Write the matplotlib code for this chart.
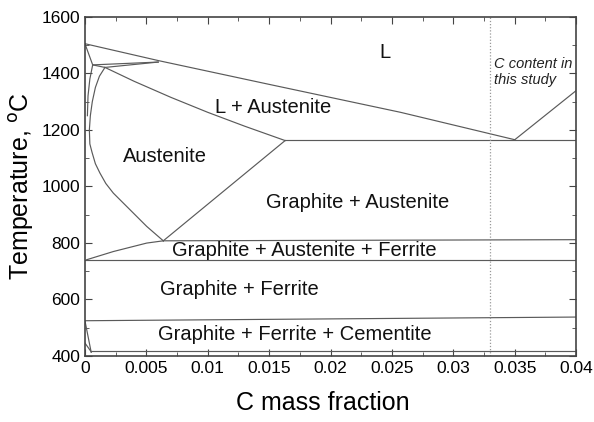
import matplotlib.pyplot as plt
from matplotlib.ticker import MultipleLocator

plt.rcParams['font.family'] = ['Liberation Sans', 'DejaVu Sans']

# phase boundaries (C mass fraction, temperature in C)
liq_c = [0, 0.006, 0.015, 0.0257, 0.035]
liq_t = [1505, 1445, 1361, 1262, 1165]
graph_liq_c = [0.035, 0.04]
graph_liq_t = [1165, 1339]

delta_top_c = [0, 0.00063]
delta_top_t = [1505, 1430]
delta_liq_c = [0.00063, 0.00597]
delta_liq_t = [1430, 1440]
perit_c = [0.00063, 0.00163, 0.00597]
perit_t = [1430, 1421, 1440]
delta_gam_c = [0.00063, 0.0004, 0.00025, 0.0002]
delta_gam_t = [1430, 1380, 1320, 1250]

aus_left_c = [0.00163, 0.00118, 0.00085, 0.00060, 0.00044, 0.00036, 0.00040,
              0.00058, 0.00085, 0.00122, 0.00170, 0.00231, 0.00367, 0.00503, 0.00638]
aus_left_t = [1421, 1390, 1350, 1300, 1250, 1200, 1150,
              1120, 1080, 1047, 1010, 976, 917, 858, 807]

solidus_c = [0.00163, 0.0040, 0.0070, 0.0100, 0.0130, 0.0163]
solidus_t = [1421, 1372, 1315, 1262, 1213, 1162]

acm_c = [0.00638, 0.0163]
acm_t = [807, 1162]

eutectic_c = [0.0163, 0.04]
eutectic_t = [1163, 1163]

eutectoid_left_c = [0.00014, 0.00231, 0.00503, 0.00638]
eutectoid_left_t = [740, 769, 799, 807]
eutectoid_right_c = [0.00638, 0.04]
eutectoid_right_t = [807, 811]

lower_a1_c = [0, 0.04]
lower_a1_t = [740, 740]

cem_c = [0, 0.04]
cem_t = [524, 537]

low_c = [0.00051, 0.04]
low_t = [418, 418]
corner1_c = [0, 0.00051]
corner1_t = [524, 412]
corner2_c = [0, 0.00051]
corner2_t = [445, 414]

study_c = 0.033

xtick_vals = [0, 0.005, 0.01, 0.015, 0.02, 0.025, 0.03, 0.035, 0.04]
xtick_labels = ['0', '0.005', '0.01', '0.015', '0.02', '0.025', '0.03', '0.035', '0.04']
ytick_vals = [400, 600, 800, 1000, 1200, 1400, 1600]

labels = ['L', 'L + Austenite', 'Austenite', 'Graphite + Austenite',
          'Graphite + Austenite + Ferrite', 'Graphite + Ferrite',
          'Graphite + Ferrite + Cementite']
label_c = [0.0244, 0.0153, 0.0065, 0.0222, 0.0179, 0.0126, 0.0171]
label_t = [1473, 1279, 1105, 942, 773, 634, 474]

fig = plt.figure(figsize=(5.94, 4.22), dpi=100)
ax = fig.add_axes([0.143, 0.157, 0.827, 0.803])

lc = '#5a5a5a'
lw = 0.85
segs = [(liq_c, liq_t), (graph_liq_c, graph_liq_t), (delta_top_c, delta_top_t),
        (delta_liq_c, delta_liq_t), (perit_c, perit_t), (delta_gam_c, delta_gam_t),
        (aus_left_c, aus_left_t), (solidus_c, solidus_t), (acm_c, acm_t),
        (eutectic_c, eutectic_t), (eutectoid_left_c, eutectoid_left_t),
        (eutectoid_right_c, eutectoid_right_t), (lower_a1_c, lower_a1_t),
        (cem_c, cem_t), (low_c, low_t), (corner1_c, corner1_t), (corner2_c, corner2_t)]
for xs, ys in segs:
    ax.plot(xs, ys, color=lc, lw=lw)

ax.axvline(study_c, color='#999999', lw=0.9, ls=(0, (1, 1.5)))

for txt, c, t in zip(labels, label_c, label_t):
    ax.text(c, t, txt, fontsize=14.5, ha='center', va='center', color='#111111')

ax.text(0.0333, 1404, 'C content in\nthis study', fontsize=10.5, style='italic',
        ha='left', va='center', color='#222222', linespacing=1.15)

ax.set_xlim(0, 0.04)
ax.set_ylim(400, 1600)
ax.set_xticks(xtick_vals)
ax.set_xticklabels(xtick_labels)
ax.set_yticks(ytick_vals)
ax.xaxis.set_minor_locator(MultipleLocator(0.0025))
ax.yaxis.set_minor_locator(MultipleLocator(100))
ax.tick_params(which='both', direction='in', top=True, right=True, labelsize=12.5,
               color='#444444')
ax.tick_params(which='major', length=5)
ax.tick_params(which='minor', length=3)
for s in ax.spines.values():
    s.set_color('#444444')
    s.set_linewidth(1.2)

ax.set_xlabel('C mass fraction', fontsize=18)
ax.xaxis.set_label_coords(0.485, -0.105)
ax.set_ylabel(r'Temperature, $^{\mathrm{o}}$C', fontsize=18, labelpad=4)

fig.savefig('out.png', dpi=100)
